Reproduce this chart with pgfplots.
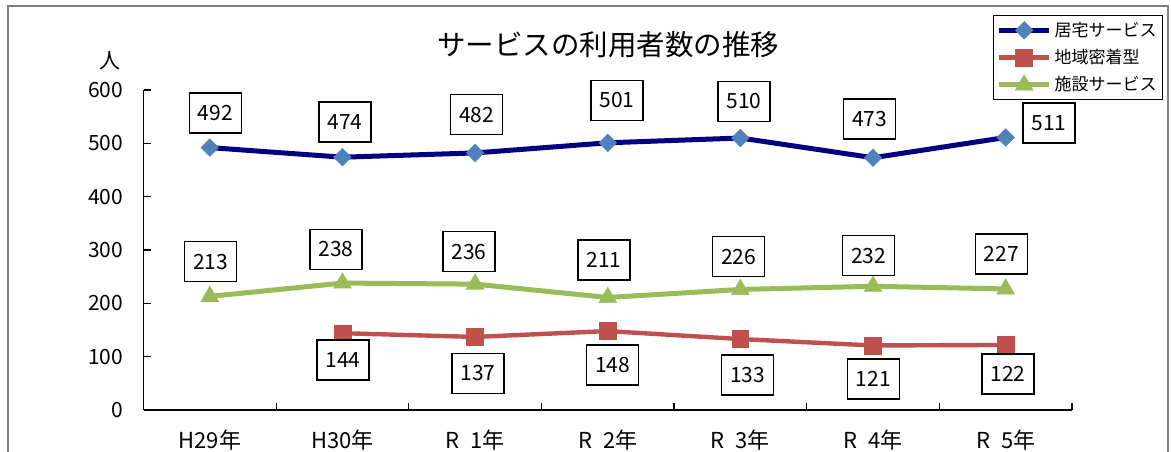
\documentclass[border=0pt]{standalone}
\usepackage{fontspec}
\setmainfont{Noto Sans CJK JP}
\usepackage{pgfplots}
\pgfplotsset{compat=1.18}
\definecolor{navyline}{HTML}{000080}
\definecolor{bluemark}{HTML}{4F81BD}
\definecolor{redline}{HTML}{C0504D}
\definecolor{greenline}{HTML}{9BBB59}
\definecolor{framegray}{HTML}{808080}
\tikzset{lbox/.style={draw=black, fill=white, text=black, line width=0.7pt, minimum width=26pt, minimum height=20pt, inner sep=0pt, anchor=center, font=\fontsize{10.5}{12}\selectfont}}
\begin{document}
\begin{tikzpicture}
\useasboundingbox (0,0) rectangle (585.5pt,225.5pt);
\draw[framegray, line width=0.6pt] (4pt,-2pt) -- (4pt,222.5pt) -- (584pt,222.5pt) -- (584pt,-2pt);
\node[font=\fontsize{14.25}{16}\selectfont] at (304pt,203pt) {サービスの利用者数の推移};
\node[font=\fontsize{10.5}{12}\selectfont] at (55pt,195pt) {人};
\begin{axis}[
  at={(71.75pt,20.5pt)}, anchor=south west,
  scale only axis, width=464.25pt, height=160pt,
  xmin=-0.5, xmax=6.5, ymin=0, ymax=600,
  axis x line*=bottom, axis y line*=left,
  axis line style={line width=0.6pt, black},
  clip=false,
  xtick={0.5,1.5,...,6.5}, xticklabels={},
  extra x ticks={0,1,2,3,4,5,6},
  extra x tick labels={H29年,H30年,R\hspace{0.5em}1年,R\hspace{0.5em}2年,R\hspace{0.5em}3年,R\hspace{0.5em}4年,R\hspace{0.5em}5年},
  extra x tick style={major tick length=0pt},
  ytick={0,100,...,600},
  tick align=inside, major tick length=3.5pt,
  tick style={line width=0.6pt, black},
  tick label style={font=\fontsize{10.5}{12}\selectfont},
  /pgf/number format/assume math mode=true,
  yticklabel style={anchor=east, inner sep=0pt, xshift=-10pt},
  xticklabel style={anchor=base, inner sep=0pt, yshift=-19pt, font=\fontsize{11}{12}\selectfont},
  legend style={at={(rel axis cs:0.915,1.234)}, anchor=north west, draw=black, line width=0.6pt, fill=white,
    inner xsep=1.5pt, inner ysep=1.5pt, row sep=2pt,
    nodes={inner sep=1.5pt}, font=\fontsize{8.5}{10}\selectfont},
  legend cell align=left,
  legend image code/.code={\draw[mark repeat=2,mark phase=2,#1] plot coordinates {(0pt,0pt) (12.5pt,0pt) (25pt,0pt)};},
]
\addplot[navyline, line width=2.5pt, mark=square*, mark size=3.1pt,
  mark options={rotate=45, fill=bluemark, draw=bluemark, line width=0.3pt},
  nodes near coords, point meta=explicit symbolic,
  visualization depends on={value \thisrow{dx}\as\dx},
  visualization depends on={value \thisrow{dy}\as\dy},
  every node near coord/.append style={lbox, xshift=\dx pt, yshift=\dy pt}]
  table[x=x, y=y, meta=y] {
x y dx dy
0 492 2.8 17.3
1 474 1.3 17.7
2 482 0.75 19.2
3 501 4.55 21.3
4 510 1.85 18.4
5 473 -1.65 19.3
6 511 21.65 7.25
};
\addlegendentry{居宅サービス}
\addplot[redline, line width=2.2pt, mark=square*, mark size=4.2pt,
  mark options={fill=redline, draw=redline, line width=0.3pt},
  nodes near coords, point meta=explicit symbolic,
  visualization depends on={value \thisrow{dx}\as\dx},
  visualization depends on={value \thisrow{dy}\as\dy},
  every node near coord/.append style={lbox, xshift=\dx pt, yshift=\dy pt}]
  table[x=x, y=y, meta=y] {
x y dx dy
1 144 0.35 -13.4
2 137 1.5 -18.15
3 148 2.45 -16.95
4 133 3.6 -17.95
5 121 0.1 -16.85
6 122 1.15 -14.5
};
\addlegendentry{地域密着型}
\addplot[greenline, line width=2.5pt, mark=triangle*, mark size=5.1pt,
  mark options={fill=greenline, draw=greenline, line width=0.3pt},
  nodes near coords, point meta=explicit symbolic,
  visualization depends on={value \thisrow{dx}\as\dx},
  visualization depends on={value \thisrow{dy}\as\dy},
  every node near coord/.append style={lbox, xshift=\dx pt, yshift=\dy pt}]
  table[x=x, y=y, meta=y] {
x y dx dy
0 213 0.4 17.35
1 238 -3.15 16.8
2 236 -3 16.25
3 211 -1.85 18.75
4 226 -0.9 16.4
5 232 -2.15 15.25
6 227 -2.15 17.5
};
\addlegendentry{施設サービス}
\end{axis}
\end{tikzpicture}
\end{document}
